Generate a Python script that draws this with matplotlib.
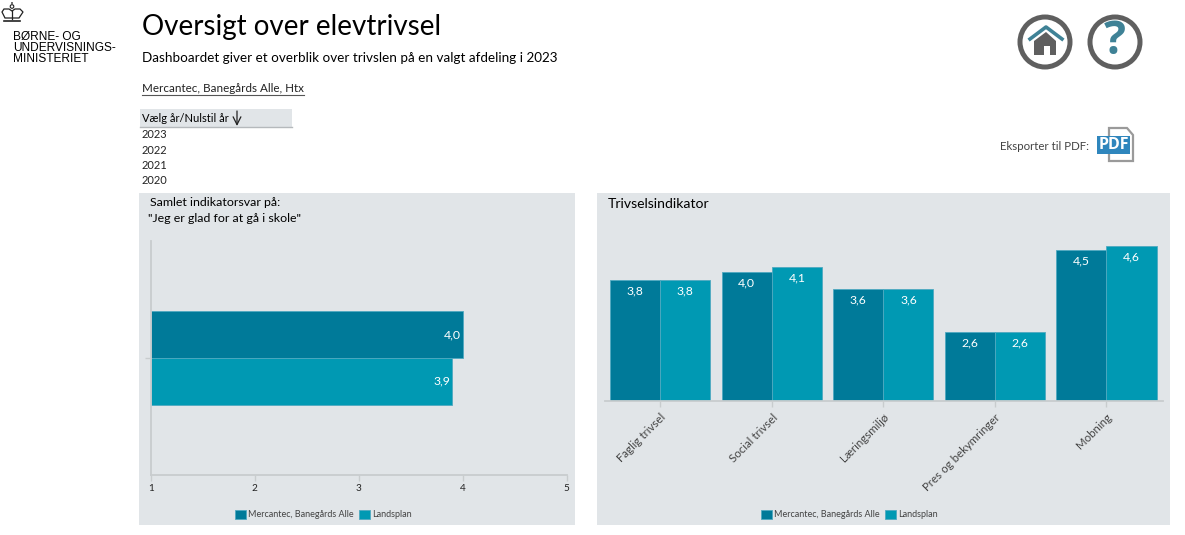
import matplotlib
matplotlib.use('Agg')
from matplotlib import pyplot as plt
from matplotlib.patches import Rectangle, Circle, Polygon
from matplotlib.lines import Line2D

plt.rcParams['font.family'] = ['Lato', 'DejaVu Sans']

W, H = 1185, 535
DARK = '#007a99'
LIGHT = '#0099b3'
EDGE = '#4fa9c0'
PANEL = '#e1e5e8'
AXIS = '#c8ccce'
GREY = '#5f5f5f'
TEAL = '#3f8296'

series_names = ['Mercantec, Banegårds Alle', 'Landsplan']
overall_values = [4.0, 3.9]
overall_ticks = [1, 2, 3, 4, 5]
categories = ['Faglig trivsel', 'Social trivsel', 'Læringsmiljø', 'Pres og bekymringer', 'Mobning']
school_values = [3.8, 4.0, 3.6, 2.6, 4.5]
national_values = [3.8, 4.1, 3.6, 2.6, 4.6]
years = ['2023', '2022', '2021', '2020']


def dk(v):
    return f'{v:.1f}'.replace('.', ',')


def px_axes(fig, left, top, right, bottom):
    return fig.add_axes([left / W, 1 - bottom / H, (right - left) / W, (bottom - top) / H])


def style_axis(ax):
    ax.patch.set_alpha(0)
    for s in ['top', 'right']:
        ax.spines[s].set_visible(False)
    for s in ['left', 'bottom']:
        ax.spines[s].set_color(AXIS)
        ax.spines[s].set_linewidth(1.3)
    ax.tick_params(color=AXIS, width=1, length=4)


def add_legend(ax, x, y):
    handles = [Rectangle((0, 0), 1, 1, fc=DARK, ec=EDGE, lw=0.6),
               Rectangle((0, 0), 1, 1, fc=LIGHT, ec=EDGE, lw=0.6)]
    ax.legend(handles, series_names, ncol=2, frameon=False, fontsize=6.5,
              loc='center', bbox_to_anchor=(x / W, 1 - y / H),
              bbox_transform=ax.figure.transFigure,
              handlelength=1.2, handleheight=1.25, handletextpad=0.25,
              columnspacing=0.55, borderpad=0, labelcolor='#444444')


fig = plt.figure(figsize=(W / 100, H / 100), dpi=100, facecolor='white')

# page layer in pixel coordinates
bg = fig.add_axes([0, 0, 1, 1])
bg.set_xlim(0, W)
bg.set_ylim(H, 0)
bg.axis('off')

bg.add_patch(Rectangle((139, 193), 436, 332, fc=PANEL, ec='none'))
bg.add_patch(Rectangle((597, 193), 573, 332, fc=PANEL, ec='none'))

# logo
for y, line in zip([36.5, 48, 59.5], ['BØRNE- OG', 'UNDERVISNINGS-', 'MINISTERIET']):
    bg.text(13, y, line, fontsize=8.6, va='center', color='black', family='Liberation Sans')
bg.add_patch(Polygon([(5, 18), (2, 12), (4, 9), (9, 9), (12, 11), (15, 9), (20, 9), (23, 12), (19, 18)],
                     closed=True, fc='none', ec='#222222', lw=0.9))
bg.add_line(Line2D([12, 12], [11, 19], color='#222222', lw=0.9))
bg.add_line(Line2D([4, 20], [21, 21], color='#222222', lw=1.2))
bg.add_patch(Circle((12, 6.5), 1.8, fc='none', ec='#222222', lw=0.8))
bg.add_patch(Circle((12, 3), 0.9, fc='#222222', ec='none'))

# header
bg.text(142, 27, 'Oversigt over elevtrivsel', fontsize=20, va='center', color='black')
bg.text(142, 58, 'Dashboardet giver et overblik over trivslen på en valgt afdeling i 2023',
        fontsize=9.7, va='center', color='black')
bg.text(142, 89, 'Mercantec, Banegårds Alle, Htx', fontsize=8.4, va='center', color='#222222')
bg.add_line(Line2D([142, 304], [95, 95], color='#555555', lw=0.8))

# year filter
bg.add_patch(Rectangle((140, 109), 152, 18, fc=PANEL, ec='none'))
bg.add_line(Line2D([140, 292], [127, 127], color='#b5b9bc', lw=1))
bg.text(142, 118, 'Vælg år/Nulstil år', fontsize=8, va='center', color='black')
bg.annotate('', xy=(237, 126), xytext=(237, 111),
            arrowprops=dict(arrowstyle='->', color='#222222', lw=0.9, shrinkA=0, shrinkB=0,
                            mutation_scale=14))
for i, year in enumerate(years):
    bg.text(142, 135 + i * 15.3, year, fontsize=8, va='center', color='#222222')

# home button
bg.add_patch(Circle((1045, 42), 25, fc='white', ec=GREY, lw=3.6))
bg.add_patch(Polygon([(1034, 41), (1046, 32), (1056, 41), (1056, 55), (1050, 55), (1050, 46),
                      (1044, 46), (1044, 55), (1034, 55)], closed=True, fc=GREY, ec='none'))
bg.add_line(Line2D([1030, 1046, 1062], [39, 27, 39], color=TEAL, lw=2.6))
# help button
bg.add_patch(Circle((1115, 42), 25, fc='white', ec=GREY, lw=3.6))
bg.text(1115, 41, '?', fontsize=33, fontweight='bold', family='Open Sans',
        ha='center', va='center', color=TEAL)

# pdf export
bg.text(1000, 147, 'Eksporter til PDF:', fontsize=8.3, va='center', color='#444444')
bg.add_patch(Polygon([(1109, 128), (1127, 128), (1133, 135), (1133, 161), (1109, 161)],
                     closed=True, fc='white', ec='#9a9a9a', lw=1.6))
bg.add_patch(Rectangle((1097, 136), 33, 18, fc='#2f86bd', ec='none'))
bg.text(1113.5, 145, 'PDF', fontsize=11.5, fontweight='bold', ha='center', va='center',
        color='white', family='Open Sans')

# panel titles
bg.text(150, 202, 'Samlet indikatorsvar på:', fontsize=8.9, va='center', color='black')
bg.text(148, 218.5, '"Jeg er glad for at gå i skole"', fontsize=8.9, va='center', color='black')
bg.text(608, 204, 'Trivselsindikator', fontsize=10.1, va='center', color='black')

# left chart
ax1 = px_axes(fig, 151, 241, 566.5, 474.7)
style_axis(ax1)
ax1.set_xlim(overall_ticks[0], overall_ticks[-1])
ax1.set_ylim(-0.5, 0.5)
ax1.barh([0.1, -0.1], [v - 1 for v in overall_values], height=0.2, left=1,
         color=[DARK, LIGHT], edgecolor=EDGE, linewidth=0.6)
for pos, v in zip([0.1, -0.1], overall_values):
    ax1.text(v - 0.02, pos, dk(v), color='white', fontsize=8.8, ha='right', va='center')
ax1.set_xticks(overall_ticks)
ax1.set_xticklabels([str(t) for t in overall_ticks], fontsize=7.2, color='#222222')
ax1.tick_params(axis='x', pad=2.5)
ax1.set_yticks([0])
ax1.set_yticklabels([''])
add_legend(ax1, 323.5, 514.5)

# right chart
ax2 = px_axes(fig, 604.5, 228.4, 1163, 401.4)
style_axis(ax2)
ax2.spines['left'].set_visible(False)
ax2.set_ylim(1, 5)
ax2.set_xlim(-0.5, 4.508)
pos = list(range(len(categories)))
ax2.bar([p - 0.225 for p in pos], [v - 1 for v in school_values], width=0.45, bottom=1,
        color=DARK, edgecolor=EDGE, linewidth=0.6)
ax2.bar([p + 0.225 for p in pos], [v - 1 for v in national_values], width=0.45, bottom=1,
        color=LIGHT, edgecolor=EDGE, linewidth=0.6)
for p, a, b in zip(pos, school_values, national_values):
    ax2.text(p - 0.225, a - 0.25, dk(a), color='white', fontsize=8.8, ha='center', va='center')
    ax2.text(p + 0.225, b - 0.25, dk(b), color='white', fontsize=8.8, ha='center', va='center')
ax2.set_yticks([])
ax2.set_xticks(pos)
ax2.set_xticklabels(categories, fontsize=8.3, color='#444444', rotation=45,
                    ha='right', rotation_mode='anchor')
add_legend(ax2, 849.5, 514.5)

fig.savefig('out.png', dpi=100)
